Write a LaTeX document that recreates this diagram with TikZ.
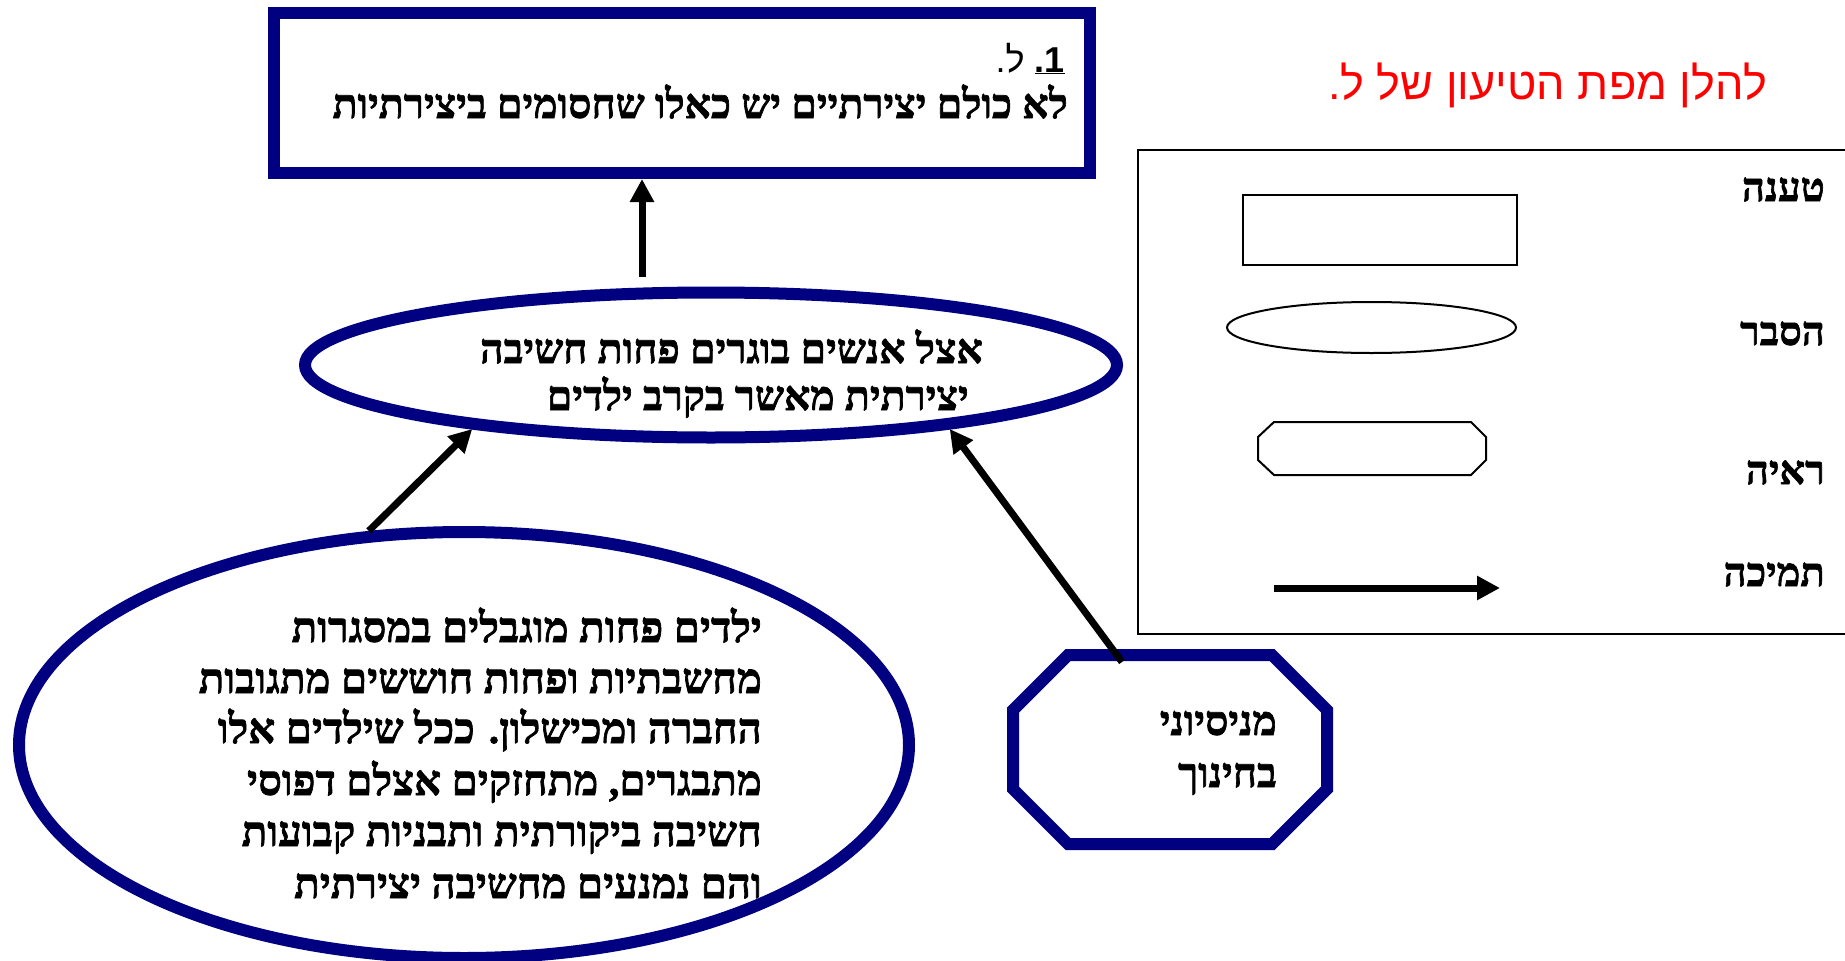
\documentclass[tikz,border=0pt]{standalone}
\usepackage{fontspec}
\usetikzlibrary{shapes.geometric,arrows.meta}
\TeXXeTstate=1
\newfontfamily\hebserif[Script=Hebrew, FakeBold=1.6]{Liberation Serif Bold}
\newfontfamily\hebsans[Script=Hebrew]{Liberation Sans}
\definecolor{argnavy}{RGB}{0,0,128}
\definecolor{argred}{RGB}{255,0,0}
\tikzset{
  navyline/.style={draw=argnavy, line width=12pt, inner sep=0pt},
  legendline/.style={draw=black, line width=2pt, inner sep=0pt},
  hebtext/.style={font=\hebserif\fontsize{41}{48}\selectfont, inner sep=0pt, anchor=base east},
  support/.style={line width=7pt, -{Triangle[length=23pt,width=23pt]}},
}
\begin{document}
\begin{tikzpicture}[x=1pt, y=-1pt]
\useasboundingbox (0,0) rectangle (1845,961);
% claim box
\node[navyline, rectangle, minimum width=816pt, minimum height=160pt] (claim) at (682,93) {};
\node[hebtext, font=\hebsans\fontsize{36}{44}\selectfont] (num) at (1065,72)
  {\mbox{.}\mbox{ל}\ \underline{\bfseries\mbox{.}\mbox{1}}};
\node[hebtext] (claimtxt) at (1068,118) {\beginR לא כולם יצירתיים יש כאלו שחסומים ביצירתיות\endR};
% explanation
\node[navyline, ellipse, minimum width=812pt, minimum height=145pt] (expl) at (711,365) {};
\node[hebtext] (expl1) at (983,363) {\beginR אצל אנשים בוגרים פחות חשיבה\endR};
\node[hebtext] (expl2) at (969,410) {\beginR יצירתית מאשר בקרב ילדים\endR};
% sub explanation
\node[navyline, ellipse, minimum width=890pt, minimum height=426pt] (sub) at (464,745) {};
\foreach \y/\t [count=\i] in {642/ילדים פחות מוגבלים במסגרות,
  693/מחשבתיות ופחות חוששים מתגובות,
  743/החברה ומכישלון. ככל שילדים אלו,
  {795/מתבגרים, מתחזקים אצלם דפוסי},
  846/חשיבה ביקורתית ותבניות קבועות,
  898/והם נמנעים מחשיבה יצירתית}
  \node[hebtext, font=\hebserif\fontsize{42}{48}\selectfont] (sub\i) at (762,\y) {\beginR\t\endR};
% evidence
\draw[argnavy, line width=12pt] (1068,655) -- (1272,655) -- (1327,710) -- (1327,789)
  -- (1272,844) -- (1068,844) -- (1013,789) -- (1013,710) -- cycle;
\node[hebtext] (ev1) at (1277,735) {\beginR מניסיוני\endR};
\node[hebtext] (ev2) at (1277,787) {\beginR בחינוך\endR};
\coordinate (evtop) at (1122,662);
% supports
\coordinate (up) at (642,277);
\draw[support] (up) -- (up |- claim.south);
\draw[support] (sub.114) -- (expl.195);
\draw[support] (evtop) -- (expl.345);
% legend
\node[font=\hebsans\fontsize{45}{52}\selectfont, text=argred, inner sep=0pt, anchor=base east]
  (title) at (1767,99) {\beginR להלן מפת הטיעון של ל.\endR};
\draw[line width=2pt] (1850,150) -- (1138,150) -- (1138,634) -- (1850,634);
\node[legendline, rectangle, minimum width=274pt, minimum height=70pt] (lclaim) at (1380,230) {};
\node[legendline, ellipse, minimum width=289pt, minimum height=51pt] (lexpl) at (1371.5,327.5) {};
\draw[line width=2pt] (1274,422) -- (1471,422) -- (1486,437) -- (1486,460)
  -- (1471,475) -- (1274,475) -- (1258,460) -- (1258,437) -- cycle;
\coordinate (la) at (1274,588);
\coordinate (lb) at (1500,588);
\draw[support] (la) -- (lb);
\foreach \y/\t [count=\i] in {201/טענה, 345/הסבר, 484/ראיה, 586/תמיכה}
  \node[hebtext, font=\hebserif\fontsize{40}{48}\selectfont] (lab\i) at (1825,\y) {\beginR\t\endR};
\end{tikzpicture}
\end{document}
